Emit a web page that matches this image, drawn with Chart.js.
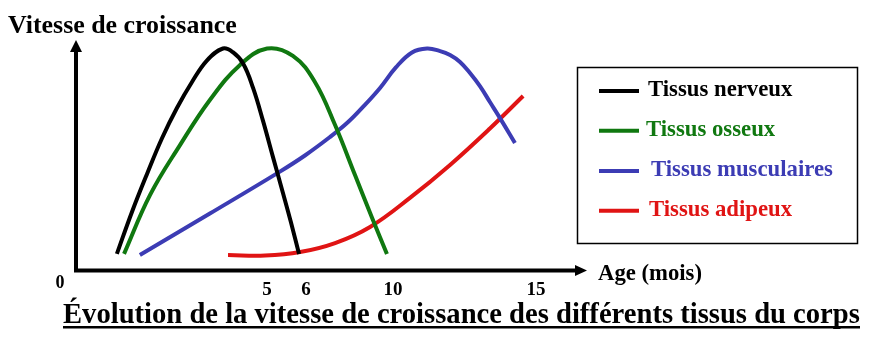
<!DOCTYPE html>
<html lang="fr">
<head>
<meta charset="UTF-8">
<title>Vitesse de croissance des tissus</title>
<style>
  html, body { margin: 0; padding: 0; background: #fff; }
  #wrap { width: 875px; height: 339px; position: relative; }
</style>
</head>
<body>
<div id="wrap"><canvas id="croissance"></canvas></div>

<script src="https://cdn.jsdelivr.net/npm/chart.js@4.4.1/dist/chart.umd.min.js"></script>
<script>
// curves (schematic axis units: x 0..20, y 0..10)
const nerveuxX = [1.60, 2.19, 2.78, 3.37, 3.95, 4.54, 5.13, 5.75, 6.14, 6.54, 6.93, 7.32, 7.71, 8.10, 8.41, 8.73];
const nerveuxY = [0.72, 2.54, 4.19, 5.75, 7.05, 8.18, 9.12, 9.63, 9.47, 8.98, 7.92, 6.49, 4.92, 3.36, 2.10, 0.72];

const osseuxX = [1.88, 2.90, 4.07, 5.24, 6.42, 7.48, 8.49, 9.35, 10.14, 10.92, 11.59, 12.17];
const osseuxY = [0.72, 3.28, 5.44, 7.40, 8.92, 9.63, 9.31, 8.18, 6.31, 4.14, 2.28, 0.72];

const musculairesX = [2.50, 5.24, 7.98, 8.96, 9.94, 10.65, 11.27, 11.90, 12.52, 13.15, 13.74, 14.25, 14.64, 15.03, 15.42, 15.81, 16.20, 16.59, 17.18];
const musculairesY = [0.67, 2.47, 4.29, 4.99, 5.79, 6.44, 7.14, 7.92, 8.81, 9.46, 9.63, 9.52, 9.35, 9.05, 8.57, 8.00, 7.31, 6.62, 5.53];

const adipeuxX = [5.95, 7.40, 8.77, 10.14, 11.51, 13.07, 14.64, 16.20, 17.50];
const adipeuxY = [0.67, 0.65, 0.80, 1.19, 1.89, 3.15, 4.58, 6.16, 7.57];

// age ticks: where they sit on the axis and what they read
const tickPos = [7.48, 9.00, 12.41, 18.0];
const tickLabels = ['5', '6', '10', '15'];

const SERIF = '"Liberation Serif", "Times New Roman", serif';

function pts(xs, ys) {
  return xs.map((x, i) => ({ x: x, y: ys[i] }));
}

// bold serif size whose width comes to w
function fitSize(ctx, text, w) {
  ctx.font = 'bold 100px ' + SERIF;
  return 100 * w / ctx.measureText(text).width;
}

// axes with arrow heads
const axesPlugin = {
  id: 'axes',
  beforeDatasetsDraw(chart) {
    const { ctx, chartArea: a } = chart;
    ctx.save();
    ctx.fillStyle = '#000';
    ctx.strokeStyle = '#000';
    ctx.lineWidth = 4;
    ctx.beginPath();
    ctx.moveTo(a.left, a.bottom + 2);
    ctx.lineTo(a.left, a.top + 10);
    ctx.moveTo(a.left - 2, a.bottom);
    ctx.lineTo(a.right - 10, a.bottom);
    ctx.stroke();
    ctx.beginPath();
    ctx.moveTo(a.left, a.top);
    ctx.lineTo(a.left - 6, a.top + 12);
    ctx.lineTo(a.left + 6, a.top + 12);
    ctx.closePath();
    ctx.fill();
    ctx.beginPath();
    ctx.moveTo(a.right, a.bottom);
    ctx.lineTo(a.right - 12, a.bottom - 5.5);
    ctx.lineTo(a.right - 12, a.bottom + 5.5);
    ctx.closePath();
    ctx.fill();
    ctx.restore();
  }
};

// titles, origin label and boxed legend
const textPlugin = {
  id: 'texts',
  afterDraw(chart) {
    const { ctx } = chart;
    ctx.save();
    ctx.fillStyle = '#000';
    ctx.textBaseline = 'alphabetic';
    ctx.textAlign = 'left';

    let t = 'Vitesse de croissance';
    ctx.font = 'bold ' + fitSize(ctx, t, 229) + 'px ' + SERIF;
    ctx.fillText(t, 8, 33);

    t = 'Age (mois)';
    ctx.font = 'bold ' + fitSize(ctx, t, 104) + 'px ' + SERIF;
    ctx.fillText(t, 598, 280);

    ctx.font = 'bold 18px ' + SERIF;
    ctx.textAlign = 'center';
    ctx.fillText('0', 60, 288);

    t = 'Évolution de la vitesse de croissance des différents tissus du corps';
    ctx.font = 'bold ' + fitSize(ctx, t, 797) + 'px ' + SERIF;
    ctx.textAlign = 'left';
    ctx.fillText(t, 63, 323);
    ctx.fillRect(63, 326, 797, 2.5);

    // legend box
    ctx.strokeStyle = '#000';
    ctx.lineWidth = 1.5;
    ctx.strokeRect(577.5, 67.5, 280, 176);
    const rows = [91, 130.7, 171, 210.7];
    const textX = [648, 646, 651, 649];
    ctx.font = 'bold ' + fitSize(ctx, 'Tissus musculaires', 182) + 'px ' + SERIF;
    chart.data.datasets.forEach((ds, i) => {
      ctx.strokeStyle = ds.borderColor;
      ctx.lineWidth = 4;
      ctx.beginPath();
      ctx.moveTo(599, rows[i]);
      ctx.lineTo(639, rows[i]);
      ctx.stroke();
      ctx.fillStyle = ds.borderColor;
      ctx.fillText(ds.label, textX[i], rows[i] + 5);
    });
    ctx.restore();
  }
};

const line = { borderWidth: 4, pointRadius: 0, fill: false, tension: 0.4 };

new Chart(document.getElementById('croissance'), {
  type: 'line',
  data: {
    datasets: [
      Object.assign({ label: 'Tissus nerveux', borderColor: '#000000', data: pts(nerveuxX, nerveuxY) }, line),
      Object.assign({ label: 'Tissus osseux', borderColor: '#107810', data: pts(osseuxX, osseuxY) }, line),
      Object.assign({ label: 'Tissus musculaires', borderColor: '#3c3cb4', data: pts(musculairesX, musculairesY) }, line),
      Object.assign({ label: 'Tissus adipeux', borderColor: '#e01414', data: pts(adipeuxX, adipeuxY) }, line)
    ]
  },
  options: {
    responsive: true,
    maintainAspectRatio: false,
    animation: false,
    layout: { padding: { left: 76, right: 288, top: 40, bottom: 0 } },
    plugins: {
      legend: { display: false },
      tooltip: { enabled: false },
      title: { display: false }
    },
    scales: {
      x: {
        type: 'linear',
        min: 0,
        max: 20,
        grid: { display: false, drawTicks: false },
        border: { display: false },
        afterBuildTicks: axis => { axis.ticks = tickPos.map(v => ({ value: v })); },
        afterFit: axis => { axis.height = 68.5; },
        ticks: {
          autoSkip: false,
          maxRotation: 0,
          padding: 8,
          color: '#000',
          font: { family: SERIF, size: 19, weight: 'bold' },
          callback: (v, i) => tickLabels[i]
        }
      },
      y: {
        min: 0,
        max: 10,
        display: false
      }
    }
  },
  plugins: [axesPlugin, textPlugin]
});
</script>
</body>
</html>
